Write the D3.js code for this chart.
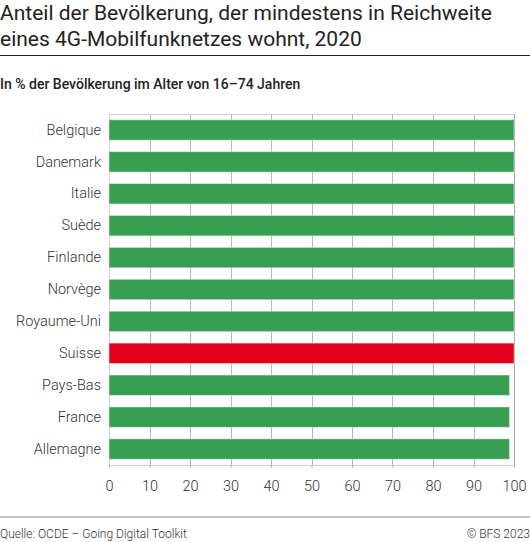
<!DOCTYPE html>
<html>
<head>
<meta charset="utf-8">
<script src="https://cdn.jsdelivr.net/npm/d3@7"></script>
<style>
  html, body { margin: 0; padding: 0; background: #fff; }
  svg { display: block; font-family: Roboto, "Noto Sans", sans-serif; }
</style>
</head>
<body>
<div id="chart"></div>
<script>
// Daten
const countries = ["Belgique", "Danemark", "Italie", "Suède", "Finlande", "Norvège",
    "Royaume-Uni", "Suisse", "Pays-Bas", "France", "Allemagne"];
const values = [100, 100, 100, 100, 100, 100, 100, 100, 98.9, 98.9, 98.9];
const highlight = "Suisse";
const xTicks = [0, 10, 20, 30, 40, 50, 60, 70, 80, 90, 100];

const titleLines = ["Anteil der Bevölkerung, der mindestens in Reichweite",
    "eines 4G-Mobilfunknetzes wohnt, 2020"];
const subtitle = "In % der Bevölkerung im Alter von 16–74 Jahren";
const source = "Quelle: OCDE – Going Digital Toolkit";
const copyright = "© BFS 2023";

const width = 530, height = 542;
const margin = { top: 114, right: 16, bottom: 77, left: 109 };

const svg = d3.select("#chart").append("svg")
    .attr("width", width)
    .attr("height", height);

// Titel
svg.append("g").selectAll("text")
    .data(titleLines)
    .enter().append("text")
    .attr("x", 0)
    .attr("y", (d, i) => 19.5 + i * 26.3)
    .text(d => d)
    .style("font-size", "21px")
    .style("fill", "#222");

svg.append("line")
    .attr("x1", 0).attr("x2", width)
    .attr("y1", 55.5).attr("y2", 55.5)
    .attr("stroke", "#222");

svg.append("text")
    .attr("x", 0).attr("y", 88.5)
    .text(subtitle)
    .style("font-size", "14px")
    .style("font-weight", 500)
    .style("fill", "#222");

// Skalen
const x = d3.scaleLinear()
    .domain([0, 100])
    .range([margin.left, width - margin.right]);

const y = d3.scaleBand()
    .domain(countries)
    .range([margin.top, height - margin.bottom])
    .paddingInner(0.36)
    .paddingOuter(0.18);

const plotBottom = height - margin.bottom;

// Gitterlinien
svg.append("g").selectAll("line")
    .data(xTicks.slice(1, -1))
    .enter().append("line")
    .attr("x1", d => Math.round(x(d)) + 0.5)
    .attr("x2", d => Math.round(x(d)) + 0.5)
    .attr("y1", margin.top)
    .attr("y2", plotBottom)
    .attr("stroke", "#b8b8b8");

// Rahmen
svg.append("rect")
    .attr("x", Math.round(x(0)) + 0.5)
    .attr("y", margin.top + 0.5)
    .attr("width", Math.round(x(100)) - Math.round(x(0)))
    .attr("height", plotBottom - margin.top)
    .attr("fill", "none")
    .attr("stroke", "#d0d0d0");

svg.append("line")
    .attr("x1", Math.round(x(100)) + 0.5)
    .attr("x2", Math.round(x(100)) + 0.5)
    .attr("y1", margin.top)
    .attr("y2", plotBottom)
    .attr("stroke", "#a8a8a8");

// Balken
svg.append("g").selectAll("rect")
    .data(countries)
    .enter().append("rect")
    .attr("x", x(0))
    .attr("y", d => y(d))
    .attr("width", (d, i) => x(values[i]) - x(0))
    .attr("height", y.bandwidth())
    .attr("fill", d => d === highlight ? "#e2001a" : "#389e51")
    .attr("stroke", "rgba(255,255,255,0.45)")
    .attr("stroke-width", 1);

// Achsen
const yAxis = svg.append("g")
    .attr("transform", `translate(${x(0) - 8},0)`)
    .call(d3.axisLeft(y).tickSize(0).tickPadding(0));
yAxis.select(".domain").remove();
yAxis.selectAll("text")
    .style("font-family", "Roboto, sans-serif")
    .style("font-size", "14.5px")
    .style("font-weight", 300)
    .style("fill", "#333");

const xAxis = svg.append("g")
    .attr("transform", `translate(0,${plotBottom})`)
    .call(d3.axisBottom(x).tickValues(xTicks).tickSize(3).tickPadding(13));
xAxis.select(".domain").remove();
xAxis.selectAll(".tick line").attr("stroke", "#b8b8b8");
xAxis.selectAll("text")
    .style("font-family", "Roboto, sans-serif")
    .style("font-size", "14.5px")
    .style("font-weight", 300)
    .style("fill", "#333");

// Fusszeile
svg.append("line")
    .attr("x1", 0).attr("x2", width)
    .attr("y1", 517).attr("y2", 517)
    .attr("stroke", "#888");

svg.append("text")
    .attr("x", 0).attr("y", 538)
    .text(source)
    .style("font-size", "12px")
    .style("font-weight", 300)
    .style("fill", "#333");

svg.append("text")
    .attr("x", width).attr("y", 538)
    .attr("text-anchor", "end")
    .text(copyright)
    .style("font-size", "12px")
    .style("font-weight", 300)
    .style("fill", "#333");
</script>
</body>
</html>
